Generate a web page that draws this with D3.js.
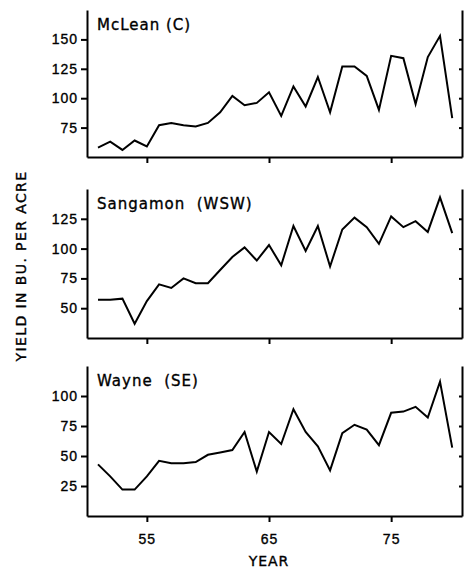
<!DOCTYPE html>
<html>
<head>
<meta charset="utf-8">
<script src="https://cdn.jsdelivr.net/npm/d3@7"></script>
<style>
  body { margin: 0; background: #fff; }
  svg { display: block; font-family: 'DejaVu Sans', sans-serif; }
  svg text { stroke: #000; stroke-width: 0.35px; fill: #000; }
  .axis path, .axis line { stroke: #000; stroke-width: 2; }
  .axis text { font-size: 14px; letter-spacing: 1px; }
</style>
</head>
<body>
<svg></svg>
<script>
/* Years on the x axis */
let years = d3.range(1951, 1981)

/* Yields per county, bushels per acre */
let mclean = [58, 63, 56, 64, 59, 77, 79, 77, 76, 79, 88, 102, 94, 96, 105, 85, 110, 93, 118, 88, 127, 127, 119, 90, 136, 134, 95, 135, 153, 83]
let sangamon = [57, 57, 58, 37, 56, 70, 67, 75, 71, 71, 82, 93, 101, 90, 103, 86, 119, 98, 119, 85, 116, 126, 118, 104, 127, 118, 123, 114, 143, 113]
let wayne = [43, 33, 22, 22, 33, 46, 44, 44, 45, 51, 53, 55, 70, 37, 70, 60, 89, 70, 58, 38, 69, 76, 72, 59, 86, 87, 91, 82, 112, 57]

let panelNames = ['McLean (C)', 'Sangamon  (WSW)', 'Wayne  (SE)']
let panelSeries = [mclean, sangamon, wayne]
let panelDomains = [[50, 175], [25, 150], [0, 125]]
let panelTicks = [[75, 100, 125, 150], [50, 75, 100, 125], [25, 50, 75, 100]]
let xTicks = [55, 65, 75]

window.addEventListener('DOMContentLoaded', () => {
  let width = 465
  let height = 572
  let left = 87
  let right = 462
  let tops = [10, 189, 366]
  let bottoms = [157, 338, 516]

  let svg = d3.select('svg')
    .attr('width', width)
    .attr('height', height)

  /* Shared horizontal scale, two-digit years */
  let xScale = d3.scaleLinear()
    .domain([50.1, 80.8])
    .range([left, right])

  let line = d3.line()

  panelSeries.forEach((series, i) => {
    let yScale = d3.scaleLinear()
      .domain(panelDomains[i])
      .range([bottoms[i], tops[i]])

    let g = svg.append('g')

    /* left axis */
    g.append('g')
      .attr('class', 'axis')
      .attr('transform', `translate(${left}, 0)`)
      .call(d3.axisLeft(yScale).tickValues(panelTicks[i]).tickSize(6).tickSizeOuter(0).tickPadding(3))
      .call(a => a.selectAll('line').attr('stroke-width', 1.5))

    /* right axis, ticks pointing inward */
    g.append('g')
      .attr('class', 'axis')
      .attr('transform', `translate(${right}, 0)`)
      .call(d3.axisRight(yScale).tickValues(panelTicks[i]).tickSize(-3).tickSizeOuter(0))
      .call(a => a.selectAll('text').remove())
      .call(a => a.selectAll('line').attr('stroke-width', 1.5))

    /* bottom axis, labels only on last panel */
    let xAxis = d3.axisBottom(xScale)
      .tickValues(xTicks)
      .tickSize(6)
      .tickSizeOuter(0)
      .tickPadding(12)
    g.append('g')
      .attr('class', 'axis')
      .attr('transform', `translate(0, ${bottoms[i]})`)
      .call(xAxis)
      .call(a => a.selectAll('line').attr('stroke-width', 1.5))
      .call(a => { if (i < 2) a.selectAll('text').remove() })

    /* yield line */
    g.append('path')
      .attr('d', line(years.map((y, j) => [xScale(y - 1900), yScale(series[j])])))
      .attr('fill', 'none')
      .attr('stroke', '#000')
      .attr('stroke-width', 2)
      .attr('stroke-linejoin', 'miter')

    /* county label */
    g.append('text')
      .attr('x', left + 10)
      .attr('y', tops[i] + 20)
      .style('font-size', '15px')
      .style('letter-spacing', '1px')
      .style('white-space', 'pre')
      .text(panelNames[i])
  })

  /* x-axis label */
  svg.append('text')
    .attr('x', 269)
    .attr('y', 566)
    .style('text-anchor', 'middle')
    .style('font-size', '14px')
    .style('letter-spacing', '1px')
    .text('YEAR')

  /* y-axis label */
  svg.append('text')
    .attr('transform', 'rotate(-90)')
    .attr('x', -266)
    .attr('y', 26)
    .style('text-anchor', 'middle')
    .style('font-size', '14px')
    .style('letter-spacing', '1.4px')
    .text('YIELD IN BU. PER ACRE')
})
</script>
</body>
</html>
